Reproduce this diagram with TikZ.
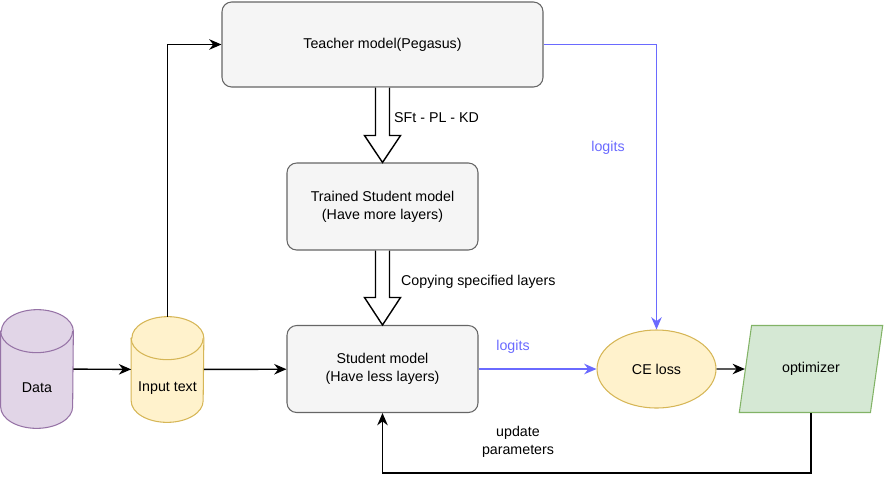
\documentclass[tikz,border=0pt]{standalone}
\usepackage{fontspec}
\setmainfont{Liberation Sans}
\usetikzlibrary{shapes.geometric,arrows.meta,calc}
\definecolor{boxfill}{HTML}{F5F5F5}
\definecolor{boxline}{HTML}{666666}
\definecolor{purfill}{HTML}{E1D5E7}
\definecolor{purline}{HTML}{9673A6}
\definecolor{yelfill}{HTML}{FFF2CC}
\definecolor{yelline}{HTML}{D6B656}
\definecolor{grnfill}{HTML}{D5E8D4}
\definecolor{grnline}{HTML}{82B366}
\definecolor{logitblue}{HTML}{6A6AFF}

\begin{document}
\begin{tikzpicture}[font=\fontsize{8.1}{10.2}\selectfont,
  model/.style={rectangle,rounded corners=5.5pt,draw=boxline,fill=boxfill,semithick,align=center,inner sep=0pt},
  store/.style={rectangle,inner sep=0pt,minimum width=1.44cm},
  flow/.style={-{Stealth[length=7pt,width=6pt]},thick},
  logit/.style={-{Stealth[length=7pt,width=6pt]},thick,draw=logitblue},
  hollow/.style={draw,thick,fill=white}]
\useasboundingbox (0,0) rectangle (17.68,-9.70);
\node [model,minimum width=6.42cm,minimum height=1.70cm] (teacher) at (7.65,-0.89) {Teacher model(Pegasus)};
\node [model,minimum width=3.82cm,minimum height=1.74cm] (trained) at (7.65,-4.13) {Trained Student model\\(Have more layers)};
\node [model,minimum width=3.82cm,minimum height=1.74cm] (student) at (7.65,-7.38) {Student model\\(Have less layers)};
\node [store,minimum height=2.36cm] (data) at (0.74,-7.38) {};
\node [store,minimum height=2.10cm] (input) at (3.35,-7.39) {};
\node [ellipse,draw=yelline,fill=yelfill,semithick,minimum width=2.38cm,minimum height=1.56cm] (ce) at (13.13,-7.38) {CE loss};
\node [trapezium,trapezium left angle=74,trapezium right angle=106,trapezium stretches=true,
  draw=grnline,fill=grnfill,semithick,minimum width=2.88cm,minimum height=1.74cm] (opt) at (16.22,-7.38) {optimizer};

\filldraw [draw=purline,fill=purfill,semithick] ($(data.north west)+(0,-0.43)$) -- ($(data.south west)+(0,0.43)$)
  arc [start angle=180,end angle=360,x radius=0.72,y radius=0.43] -- ($(data.north east)+(0,-0.43)$)
  arc [start angle=0,end angle=180,x radius=0.72,y radius=0.43] -- cycle;
\draw [purline,semithick] ($(data.north west)+(0,-0.43)$) arc [start angle=180,end angle=360,x radius=0.72,y radius=0.43];
\filldraw [draw=yelline,fill=yelfill,semithick] ($(input.north west)+(0,-0.43)$) -- ($(input.south west)+(0,0.43)$)
  arc [start angle=180,end angle=360,x radius=0.72,y radius=0.43] -- ($(input.north east)+(0,-0.43)$)
  arc [start angle=0,end angle=180,x radius=0.72,y radius=0.43] -- cycle;
\draw [yelline,semithick] ($(input.north west)+(0,-0.43)$) arc [start angle=180,end angle=360,x radius=0.72,y radius=0.43];
\node (datatxt) at ($(data.center)+(0,-0.37)$) {Data};
\node (inputtxt) at ($(input.center)+(0,-0.37)$) {Input text};

\draw [hollow] ($(teacher.south)+(-0.14,0)$) -- ($(teacher.south)+(-0.14,-0.96)$) -- ($(teacher.south)+(-0.36,-0.96)$)
  -- (trained.north) -- ($(teacher.south)+(0.36,-0.96)$) -- ($(teacher.south)+(0.14,-0.96)$) -- ($(teacher.south)+(0.14,0)$);
\draw [hollow] ($(trained.south)+(-0.14,0)$) -- ($(trained.south)+(-0.14,-0.94)$) -- ($(trained.south)+(-0.36,-0.94)$)
  -- (student.north) -- ($(trained.south)+(0.36,-0.94)$) -- ($(trained.south)+(0.14,-0.94)$) -- ($(trained.south)+(0.14,0)$);
\node [anchor=west] (sft) at (7.76,-2.36) {SFt - PL - KD};
\node [anchor=west] (copy) at (7.90,-5.64) {Copying specified layers};

\draw [flow] (data) -- (input);
\draw [flow] (input) -- (student);
\draw [flow] (input.north) |- (teacher.west);
\draw [logit] (teacher.east) -| (ce.north);
\draw [logit] (student.east) -- (ce.west);
\draw [flow] (ce) -- (opt);
\draw [flow] (opt.south) -- ++(0,-1.2) -| (student.south);
\node [text=logitblue] (lg1) at (12.16,-2.96) {logits};
\node [text=logitblue] (lg2) at (10.26,-6.94) {logits};
\node [align=center] (upd) at (10.36,-8.84) {update\\parameters};
\end{tikzpicture}
\end{document}
